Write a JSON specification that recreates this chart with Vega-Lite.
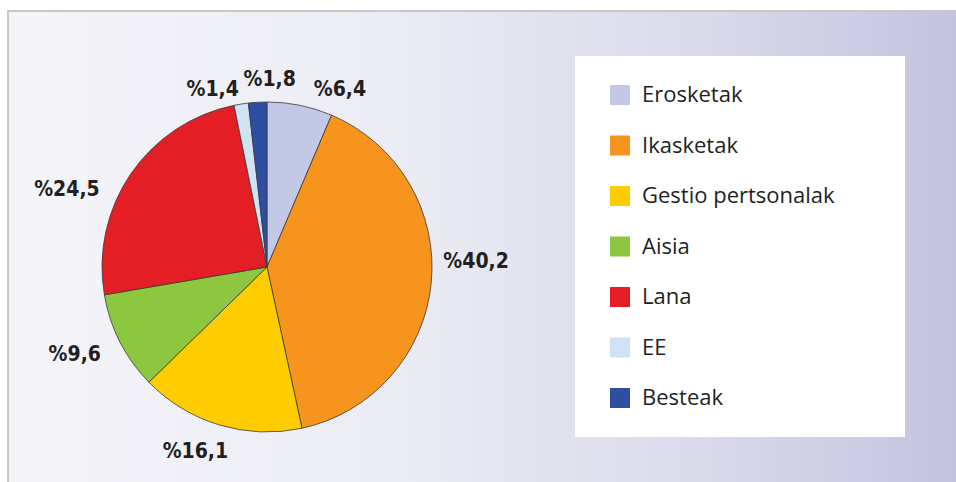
{
  "$schema": "https://vega.github.io/schema/vega-lite/v6.json",
  "width": 956,
  "height": 482,
  "autosize": {"type": "fit", "contains": "padding"},
  "padding": {"left": 8, "top": 11, "right": -10, "bottom": -10},
  "background": "#ffffff",
  "view": {
    "stroke": "#c8c8c8",
    "strokeWidth": 2,
    "fill": {
      "gradient": "linear",
      "x1": 0, "y1": 0, "x2": 1, "y2": 0,
      "stops": [
        {"offset": 0, "color": "#f4f4f9"},
        {"offset": 0.4, "color": "#ececf4"},
        {"offset": 0.75, "color": "#d8d8ea"},
        {"offset": 1, "color": "#c2c2dd"}
      ]
    }
  },
  "data": {
    "values": [
      {"i": 1, "cat": "Erosketak", "pct": 6.4, "label": "%6,4"},
      {"i": 2, "cat": "Ikasketak", "pct": 40.2, "label": "%40,2"},
      {"i": 3, "cat": "Gestio pertsonalak", "pct": 16.1, "label": "%16,1"},
      {"i": 4, "cat": "Aisia", "pct": 9.6, "label": "%9,6"},
      {"i": 5, "cat": "Lana", "pct": 24.5, "label": "%24,5"},
      {"i": 6, "cat": "EE", "pct": 1.4, "label": "%1,4"},
      {"i": 7, "cat": "Besteak", "pct": 1.8, "label": "%1,8"}
    ]
  },
  "encoding": {
    "theta": {"field": "pct", "type": "quantitative", "stack": true},
    "order": {"field": "i", "type": "quantitative", "sort": "ascending"}
  },
  "layer": [
    {
      "mark": {"type": "arc", "outerRadius": 165, "x": 259, "y": 256, "stroke": "#3a3a3a", "strokeWidth": 0.8},
      "encoding": {
        "color": {
          "field": "cat",
          "type": "nominal",
          "scale": {
            "domain": ["Erosketak", "Ikasketak", "Gestio pertsonalak", "Aisia", "Lana", "EE", "Besteak"],
            "range": ["#c2c8e6", "#f7941d", "#ffcc00", "#8dc63f", "#e31e24", "#cfe3f5", "#2e4ea1"]
          },
          "legend": {
            "orient": "none",
            "legendX": 567,
            "legendY": 45,
            "title": "MM",
            "titleOrient": "right",
            "titleAngle": 0,
            "titleOpacity": 0,
            "titleFont": "Open Sans",
            "titleFontSize": 22,
            "titlePadding": 0,
            "fillColor": "#ffffff",
            "padding": 28,
            "symbolOffset": 6,
            "symbolType": "square",
            "symbolSize": 400,
            "symbolStrokeWidth": 0,
            "labelFont": "Open Sans",
            "labelFontSize": 22,
            "labelColor": "#231f20",
            "labelOffset": 11,
            "labelLimit": 400,
            "rowPadding": 28.5
          }
        }
      }
    },
    {
      "mark": {
        "type": "text",
        "radius": 200,
        "x": 259,
        "y": 256,
        "font": "DejaVu Sans Condensed",
        "fontSize": 21,
        "fontWeight": "bold",
        "fill": "#231f20",
        "align": "center",
        "baseline": "middle",
        "dx": {"expr": "({'Erosketak':33,'Ikasketak':10,'Gestio pertsonalak':-14,'Aisia':-14,'Lana':-35,'EE':-23,'Besteak':14})[datum.cat]"},
        "dy": {"expr": "({'Erosketak':19,'Ikasketak':-24,'Gestio pertsonalak':-7,'Aisia':-3,'Lana':36,'EE':21,'Besteak':13})[datum.cat]"}
      },
      "encoding": {"text": {"field": "label"}}
    }
  ]
}
